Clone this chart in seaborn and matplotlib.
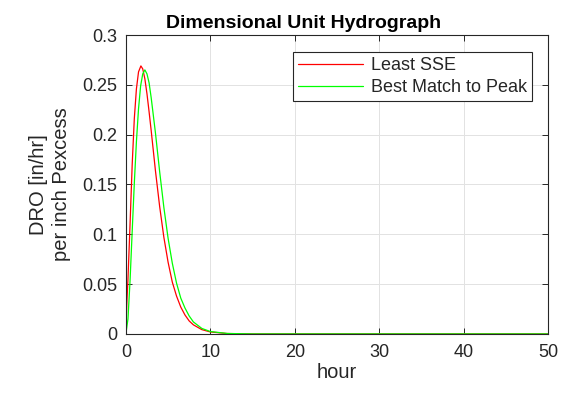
import numpy as np
import pandas as pd
import seaborn as sns
import matplotlib.pyplot as plt
from matplotlib.ticker import FixedLocator

## Data
hours_sse = [0, 0.1, 0.25, 0.5, 0.75, 1.0, 1.25, 1.5, 1.78, 2.0, 2.25, 2.5, 2.75,
             3.0, 3.5, 4.0, 4.5, 5.0, 5.5, 6.0, 6.5, 7.0, 7.5, 8.0, 9.0, 10, 12, 15, 20, 30, 40, 50]
dro_sse = [0, 0.028, 0.055, 0.111, 0.170, 0.216, 0.246, 0.263, 0.269, 0.266, 0.256, 0.241, 0.223,
           0.204, 0.164, 0.128, 0.097, 0.072, 0.052, 0.038, 0.027, 0.019, 0.013, 0.0091, 0.0043, 0.002,
           0.0004, 0, 0, 0, 0, 0]

hours_peak = [0, 0.25, 0.5, 0.75, 1.0, 1.25, 1.5, 1.75, 2.0, 2.25, 2.5, 2.75, 3.0, 3.5,
              4.0, 4.5, 5.0, 5.5, 6.0, 6.5, 7.0, 7.5, 8.0, 9.0, 10, 12, 15, 20, 30, 40, 50]
dro_peak = [0, 0.015, 0.054, 0.103, 0.151, 0.193, 0.226, 0.249, 0.261, 0.265, 0.261, 0.252, 0.237,
            0.202, 0.163, 0.127, 0.096, 0.071, 0.051, 0.036, 0.026, 0.018, 0.012, 0.0055, 0.0024,
            0.00045, 0, 0, 0, 0, 0]

series_names = ["Least SSE", "Best Match to Peak"]
series_colors = ["#ff0000", "#00ff00"]
x_ticks = [0, 10, 20, 30, 40, 50]
y_ticks = [0, 0.05, 0.1, 0.15, 0.2, 0.25, 0.3]
y_ticklabels = ["0", "0.05", "0.1", "0.15", "0.2", "0.25", "0.3"]

df = pd.concat([
    pd.DataFrame({"hour": hours_sse, "dro": dro_sse, "model": series_names[0]}),
    pd.DataFrame({"hour": hours_peak, "dro": dro_peak, "model": series_names[1]}),
])

sns.set_theme(style="white")
plt.rcParams["font.family"] = ["Liberation Sans", "DejaVu Sans"]

fig = plt.figure(figsize=(5.8, 3.98), dpi=100)
ax = fig.add_axes([0.217, 0.161, 0.728, 0.751])

sns.lineplot(data=df, x="hour", y="dro", hue="model", palette=series_colors,
             hue_order=series_names, linewidth=0.9, sort=False, ax=ax)

ax.set_xlim(0, 50)
ax.set_ylim(0, 0.3)
ax.xaxis.set_major_locator(FixedLocator(x_ticks))
ax.set_yticks(y_ticks)
ax.set_yticklabels(y_ticklabels)
ax.grid(True, color="#e2e2e2", linewidth=0.7)
ax.set_axisbelow(True)
for s in ax.spines.values():
    s.set_color("#262626")
    s.set_linewidth(0.8)
ax.tick_params(direction="in", length=4, width=0.7, color="#262626",
               top=True, right=True, bottom=True, left=True,
               labelsize=13, labelcolor="#262626")
ax.tick_params(axis="x", pad=7)
ax.tick_params(axis="y", pad=6)

ax.set_xlabel("hour", fontsize=14.5, color="#262626", labelpad=2)
ax.set_ylabel("DRO [in/hr]\nper inch Pexcess", fontsize=14.5, color="#262626",
              labelpad=8, linespacing=1.3)
ax.set_title("Dimensional Unit Hydrograph", fontsize=14, fontweight="bold",
             color="black", pad=5, x=0.422)

leg = ax.legend(loc="upper right", bbox_to_anchor=(0.962, 0.943), fontsize=13,
                frameon=True, fancybox=False, framealpha=1, edgecolor="#262626",
                handlelength=3.6, handletextpad=0.4, borderpad=0.3, labelspacing=0.25,
                borderaxespad=0)
leg.get_frame().set_linewidth(0.8)
for line in leg.get_lines():
    line.set_linewidth(0.9)

fig.savefig("out.png", dpi=100, facecolor="white")
